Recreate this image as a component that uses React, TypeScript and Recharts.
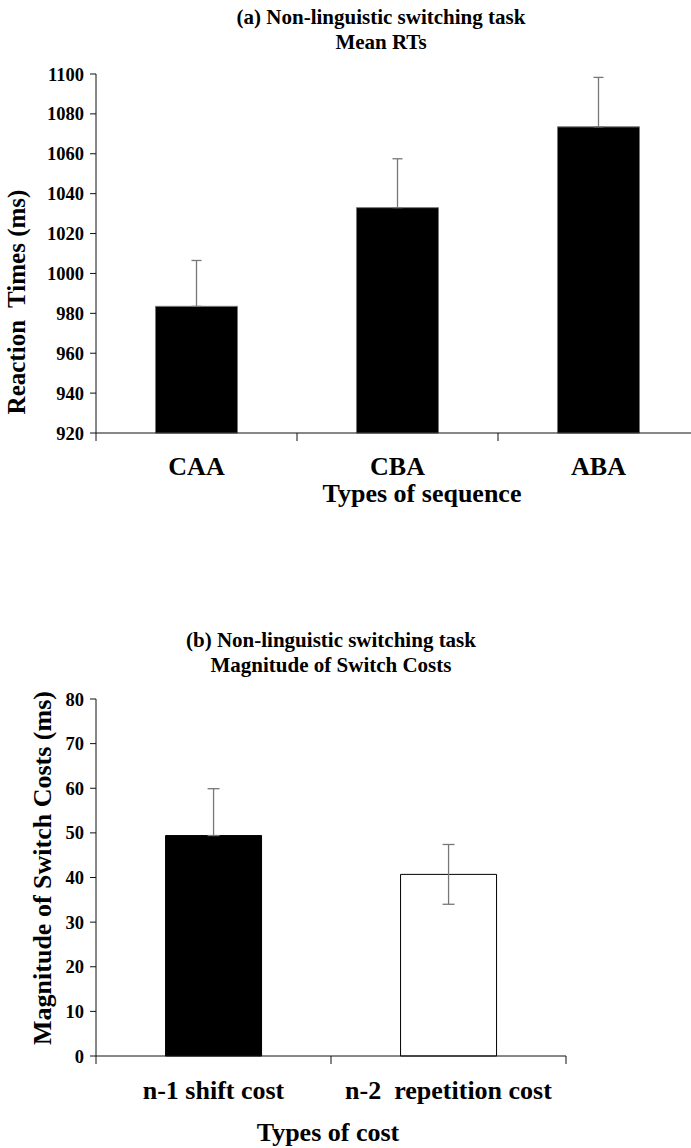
import React from "react";
import { BarChart, Bar, Cell, XAxis, YAxis, ErrorBar } from "recharts";

/* ── data ─────────────────────────────────────────────────────────────── */
const sequenceTypes = ["CAA", "CBA", "ABA"];
const meanRT = [983.5, 1033, 1073.5];
const rtErrUp = [23, 24.5, 24.8];
const rtTicks = [920, 940, 960, 980, 1000, 1020, 1040, 1060, 1080, 1100];

const costTypes = ["n-1 shift cost", "n-2  repetition cost"];
const switchCost = [49.4, 40.7];
const costErrLow = [0, 6.7];
const costErrUp = [10.5, 6.7];
const costFills = ["#000000", "#ffffff"];
const costTicks = [0, 10, 20, 30, 40, 50, 60, 70, 80];

const rtData = sequenceTypes.map((name, i) => ({
  name,
  rt: meanRT[i],
  err: [0, rtErrUp[i]],
}));

const costData = costTypes.map((name, i) => ({
  name,
  cost: switchCost[i],
  err: [costErrLow[i], costErrUp[i]],
}));

/* ── styles ───────────────────────────────────────────────────────────── */
const FONT = '"Liberation Serif", "Times New Roman", serif';
const AXIS = "#111";
const ERR = "#777";

const Y_TICK = { fontSize: 18.5, fontFamily: FONT, fontWeight: 700, fill: "#000" };

const titleStyle = (cx: number, top: number): React.CSSProperties => ({
  position: "absolute",
  left: cx,
  top,
  transform: "translateX(-50%)",
  fontFamily: FONT,
  fontWeight: 700,
  fontSize: 21,
  lineHeight: "25px",
  textAlign: "center",
  whiteSpace: "nowrap",
  color: "#000",
});

const axisTitle = (cx: number, cy: number, size: number, rotate = false): React.CSSProperties => ({
  position: "absolute",
  left: cx,
  top: cy,
  transform: `translate(-50%, -50%)${rotate ? " rotate(-90deg)" : ""}`,
  fontFamily: FONT,
  fontWeight: 700,
  fontSize: size,
  whiteSpace: "pre",
  color: "#000",
});

/* category tick: label at band centre, tick marks on the band edges */
function CatTick(props: any) {
  const { x, y, payload, index, half, count, labelDy } = props;
  const axisY = y - 8;
  return (
    <g>
      <line x1={x - half} y1={axisY} x2={x - half} y2={axisY + 8} stroke={AXIS} />
      {index === count - 1 && (
        <line x1={x + half} y1={axisY} x2={x + half} y2={axisY + 8} stroke={AXIS} />
      )}
      <text
        x={x}
        y={axisY + labelDy}
        dy="0.35em"
        textAnchor="middle"
        fontFamily={FONT}
        fontWeight={700}
        fontSize={26}
        fill="#000"
        style={{ whiteSpace: "pre" }}
      >
        {payload.value}
      </text>
    </g>
  );
}

export default function App() {
  return (
    <div
      style={{
        position: "fixed",
        left: 0,
        top: 0,
        width: 691,
        height: 1148,
        overflow: "hidden",
        background: "#fff",
      }}
    >
      {/* (a) mean RTs */}
      <div style={titleStyle(381, 5)}>
        (a) Non-linguistic switching task
        <br />
        Mean RTs
      </div>
      <div style={{ position: "absolute", left: 0, top: 0 }}>
        <BarChart
          width={720}
          height={520}
          data={rtData}
          margin={{ top: 74, right: 21, left: 0, bottom: 0 }}
          barCategoryGap="29.6%"
        >
          <XAxis
            dataKey="name"
            height={87}
            axisLine={{ stroke: AXIS }}
            tickLine={false}
            tickSize={8}
            tickMargin={0}
            interval={0}
            tick={<CatTick half={100.5} count={sequenceTypes.length} labelDy={33} />}
          />
          <YAxis
            type="number"
            domain={[920, 1100]}
            ticks={rtTicks}
            width={96}
            axisLine={{ stroke: AXIS }}
            tickLine={{ stroke: AXIS }}
            tickSize={6}
            tickMargin={6}
            tick={Y_TICK}
            interval={0}
          />
          <Bar dataKey="rt" fill="#000" stroke="#777" isAnimationActive={false}>
            <ErrorBar dataKey="err" width={5} stroke={ERR} strokeWidth={1.3} direction="y" />
          </Bar>
        </BarChart>
      </div>
      <div style={axisTitle(17, 302, 25, true)}>Reaction  Times (ms)</div>
      <div style={axisTitle(422, 494, 26)}>Types of sequence</div>

      {/* (b) switch costs */}
      <div style={titleStyle(331, 628)}>
        (b) Non-linguistic switching task
        <br />
        Magnitude of Switch Costs
      </div>
      <div style={{ position: "absolute", left: 0, top: 620 }}>
        <BarChart
          width={691}
          height={528}
          data={costData}
          margin={{ top: 79, right: 125, left: 0, bottom: 0 }}
          barCategoryGap="29.6%"
        >
          <XAxis
            dataKey="name"
            height={92}
            axisLine={{ stroke: AXIS }}
            tickLine={false}
            tickSize={8}
            tickMargin={0}
            interval={0}
            tick={<CatTick half={117.5} count={costTypes.length} labelDy={34} />}
          />
          <YAxis
            type="number"
            domain={[0, 80]}
            ticks={costTicks}
            width={96}
            axisLine={{ stroke: AXIS }}
            tickLine={{ stroke: AXIS }}
            tickSize={6}
            tickMargin={6}
            tick={Y_TICK}
            interval={0}
          />
          <Bar dataKey="cost" stroke="#000" isAnimationActive={false}>
            {costData.map((d, i) => (
              <Cell key={d.name} fill={costFills[i]} />
            ))}
            <ErrorBar dataKey="err" width={6} stroke={ERR} strokeWidth={1.3} direction="y" />
          </Bar>
        </BarChart>
      </div>
      <div style={axisTitle(43, 868, 26, true)}>Magnitude of Switch Costs (ms)</div>
      <div style={axisTitle(328, 1133, 26)}>Types of cost</div>
    </div>
  );
}
